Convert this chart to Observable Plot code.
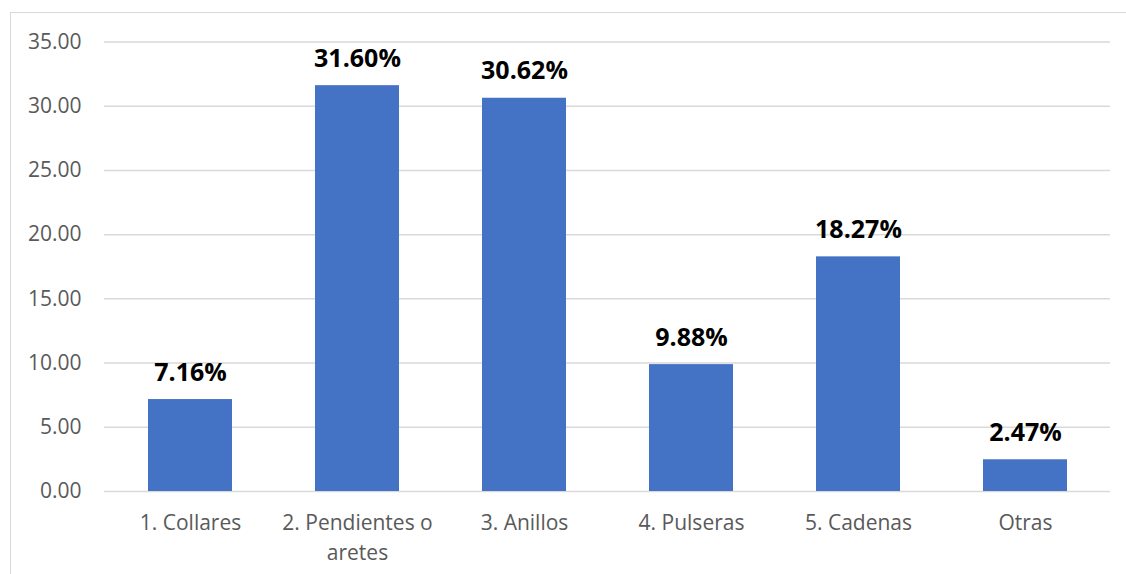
<!DOCTYPE html>
<html>
<head>
<meta charset="utf-8">
<script src="https://cdn.jsdelivr.net/npm/d3@7"></script>
<script src="https://cdn.jsdelivr.net/npm/@observablehq/plot@0.6"></script>
<style>
  html, body { margin: 0; padding: 0; background: #fff; overflow: hidden; }
  #wrap { position: relative; width: 1126px; height: 574px; }
  #frame { position: absolute; left: 10px; top: 12px; width: 1140px; height: 600px; border: 1px solid #d9d9d9; box-sizing: border-box; }
  #chart { position: absolute; left: 0; top: 0; }
</style>
</head>
<body>
<div id="wrap"><div id="frame"></div><div id="chart"></div></div>
<script>
const categories = ["1. Collares", "2. Pendientes o aretes", "3. Anillos", "4. Pulseras", "5. Cadenas", "Otras"];
const tickLabels = ["1. Collares", "2. Pendientes o\naretes", "3. Anillos", "4. Pulseras", "5. Cadenas", "Otras"];
const values = [7.16, 31.60, 30.62, 9.88, 18.27, 2.47];
const yTicks = [0, 5, 10, 15, 20, 25, 30, 35];

const data = categories.map((c, i) => ({category: c, value: values[i]}));
const labelOf = new Map(categories.map((c, i) => [c, tickLabels[i]]));

const chart = Plot.plot({
  width: 1126,
  height: 574,
  marginLeft: 104,
  marginRight: 16,
  marginTop: 41.5,
  marginBottom: 83,
  style: {fontFamily: "'Open Sans', sans-serif", background: "transparent"},
  x: {domain: categories, paddingInner: 0.5, paddingOuter: 0.25, label: null},
  y: {domain: [0, 35], label: null},
  marks: [
    Plot.gridY(yTicks, {stroke: "#d9d9d9", strokeOpacity: 1, strokeWidth: 1.5}),
    Plot.barY(data, {x: "category", y: "value", fill: "#4472C4"}),
    Plot.axisY(yTicks, {tickSize: 0, tickPadding: 23, tickFormat: d3.format(".2f"), fontSize: 21, fill: "#595959", label: null}),
    Plot.axisX({tickSize: 0, tickPadding: 17, tickFormat: d => labelOf.get(d), fontSize: 21, lineHeight: 1.43, fill: "#595959", label: null}),
    Plot.text(data, {x: "category", y: "value", text: d => d.value.toFixed(2) + "%", lineAnchor: "bottom", dy: -19, fontSize: 25, fontWeight: "bold", fill: "#000"})
  ]
});
document.getElementById("chart").appendChild(chart);
</script>
</body>
</html>
